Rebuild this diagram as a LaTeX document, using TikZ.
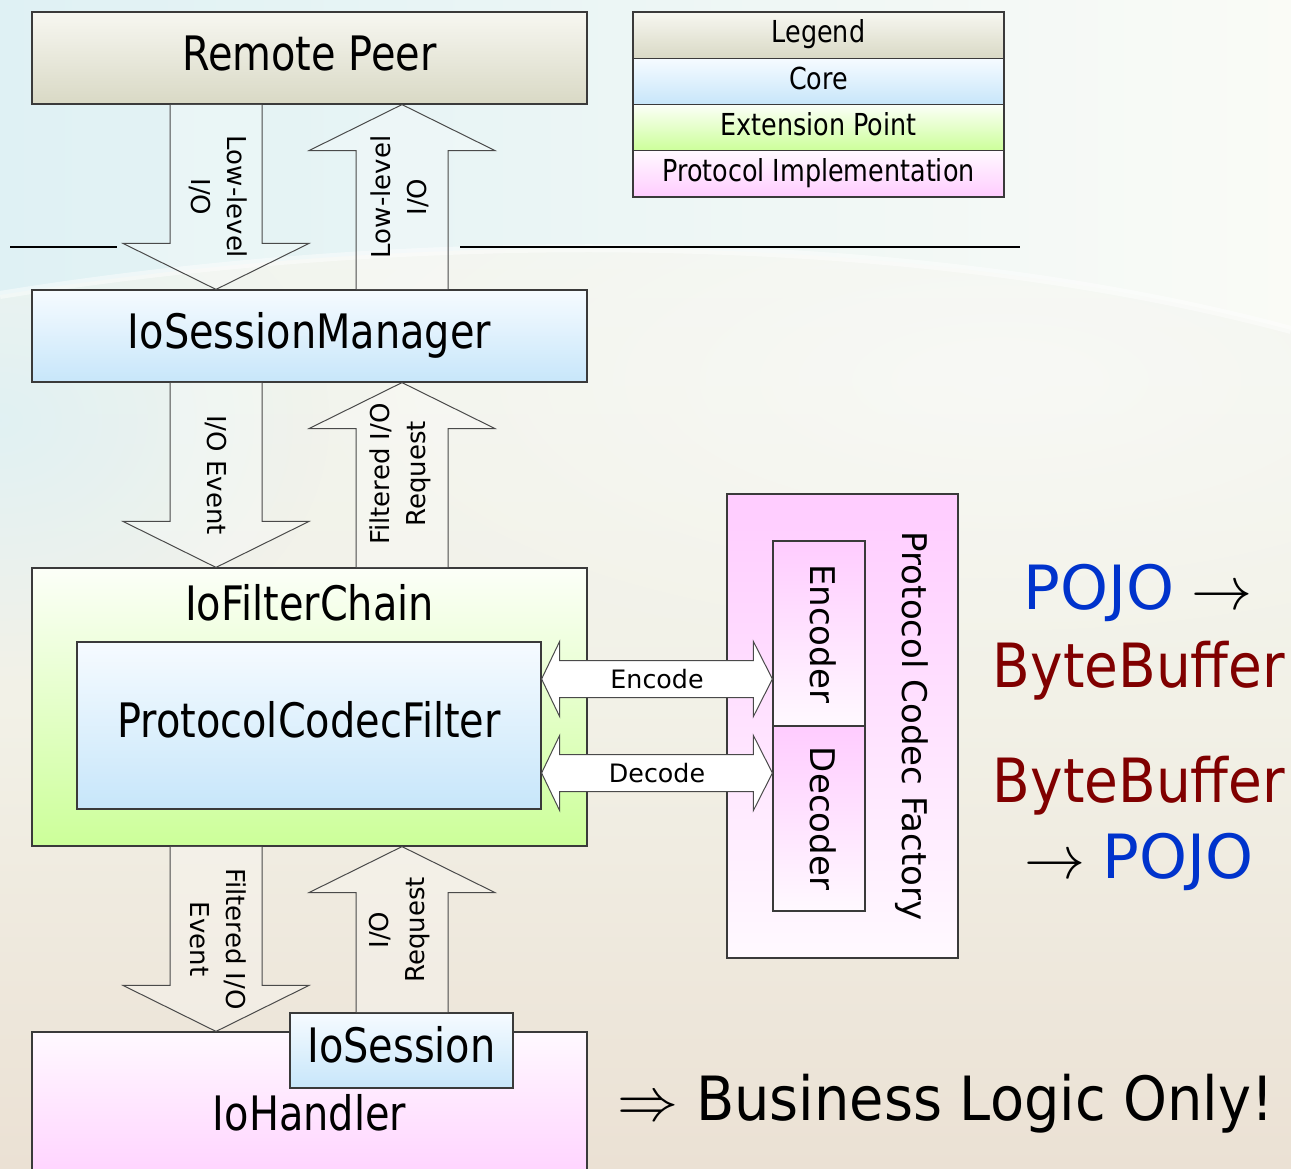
\documentclass[tikz,border=0pt]{standalone}
\usepackage{fontspec}
\setmainfont{DejaVu Sans}
\newfontfamily\tah[FakeStretch=0.84]{DejaVu Sans}
\newfontfamily\tahw[FakeStretch=0.9]{DejaVu Sans}
\newfontfamily\tahb[FakeStretch=0.915]{DejaVu Sans}
\newfontfamily\dvs{DejaVu Sans}
\usetikzlibrary{calc,fadings}
\tikzfading[name=softrad, inner color=transparent!0, outer color=transparent!100]
\newcommand\bigmath[1]{\scalebox{4.575}{\fontsize{10}{12}\selectfont$#1$}}

\definecolor{bgA}{HTML}{DFF1F4}
\definecolor{bgTR}{HTML}{FAFBF6}
\definecolor{bgL1}{HTML}{F2F5EF}
\definecolor{bgM}{HTML}{F2F1E7}
\definecolor{bgC}{HTML}{EBE1D4}
\definecolor{begT}{HTML}{F7F7F1}
\definecolor{begB}{HTML}{D9D9C5}
\definecolor{coreT}{HTML}{F6FBFF}
\definecolor{coreB}{HTML}{C7E6FA}
\definecolor{extT}{HTML}{FCFFF8}
\definecolor{extB}{HTML}{CCFF99}
\definecolor{impT}{HTML}{FFF9FF}
\definecolor{impB}{HTML}{FFCCFF}
\definecolor{edge}{HTML}{3A3A3A}
\definecolor{arrowedge}{HTML}{4A4A4A}
\definecolor{pojo}{HTML}{0033CC}
\definecolor{bbuf}{HTML}{800000}

\newcommand\dnblk[3]{%
  \coordinate (tmpS) at (#1|-#2.south);
  \coordinate (tmpT) at (#1|-#3.north);
  \draw[blk] ($(tmpS)+(-46,0)$) -- ($(tmpT)+(-46,-46)$) -- ($(tmpT)+(-93,-46)$) -- (tmpT)
     -- ($(tmpT)+(93,-46)$) -- ($(tmpT)+(46,-46)$) -- ($(tmpS)+(46,0)$);}
\newcommand\upblk[3]{%
  \coordinate (tmpS) at (#1|-#2.north);
  \coordinate (tmpT) at (#1|-#3.south);
  \draw[blk] ($(tmpS)+(-46,0)$) -- ($(tmpT)+(-46,46)$) -- ($(tmpT)+(-93,46)$) -- (tmpT)
     -- ($(tmpT)+(93,46)$) -- ($(tmpT)+(46,46)$) -- ($(tmpS)+(46,0)$);}
\newcommand\dblblk[2]{%
  \draw[dblk] (#1) -- ($(#1)+(18,-37.5)$) -- ($(#1)+(18,-18.5)$) -- ($(#2)+(-19,-18.5)$)
     -- ($(#2)+(-19,-37.5)$) -- (#2) -- ($(#2)+(-19,37.5)$) -- ($(#2)+(-19,18.5)$)
     -- ($(#1)+(18,18.5)$) -- ($(#1)+(18,37.5)$) -- cycle;}

\begin{document}
\begin{tikzpicture}[x=0.75pt,y=-0.75pt,
  box/.style={draw=edge, line width=0.9pt, inner sep=0pt,
    font=\tah\fontsize{35.6}{42}\selectfont, text height=27pt, text depth=8.5pt},
  beige/.style={top color=begT, bottom color=begB},
  core/.style={top color=coreT, bottom color=coreB},
  ext/.style={top color=extT, bottom color=extB},
  impl/.style={top color=impT, bottom color=impB},
  implrev/.style={top color=impB, bottom color=impT},
  mainw/.style={minimum width=416.25pt},
  leg/.style={draw=edge, line width=0.9pt, inner sep=0pt, minimum width=278.25pt, minimum height=34.7pt,
    font=\tah\fontsize{22.7}{27}\selectfont, text height=17.25pt, text depth=5.45pt},
  lbl/.style={inner sep=0pt, font=\tah\fontsize{35.6}{42}\selectfont, text height=27pt, text depth=8.5pt},
  blk/.style={draw=arrowedge, line width=0.75pt, fill=white, fill opacity=0.25, line join=miter},
  dblk/.style={draw=arrowedge, line width=0.75pt, fill=white, line join=miter},
  dlbl/.style={rotate=-90, align=center, inner sep=0pt, font=\fontsize{19.5}{27}\selectfont},
  ulbl/.style={rotate=90, align=center, inner sep=0pt, font=\fontsize{19.5}{27}\selectfont},
  hlbl/.style={inner sep=0pt, font=\fontsize{19}{23}\selectfont},
  rlbl/.style={rotate=-90, inner sep=0pt, font=\fontsize{25.5}{30}\selectfont},
  big/.style={inner sep=0pt, font=\tahw\fontsize{45.75}{55}\selectfont, text=bbuf},
  sep/.style={draw=black, line width=1.5pt}
]
\useasboundingbox (0,0) rectangle (1291,1169);

% background
\shade[top color=bgA, bottom color=bgC, middle color=bgM] (0,0) rectangle (1291,1169);
\shade[top color=bgL1, bottom color=bgC, middle color=bgM] (0,240) rectangle (1291,1169);
\fill[bgA, path fading=softrad, fill opacity=0.9] (0,420) ellipse (330 and 260);
\fill[white, path fading=softrad, fill opacity=0.45] (1000,380) ellipse (760 and 300);
\shade[left color=bgA, right color=bgTR] (0,0) -- (1291,0) -- (1291,330)
   .. controls (900,225) and (400,230) .. (0,295) -- cycle;
\draw[white, opacity=0.45, line width=6pt] (1291,330) .. controls (900,225) and (400,230) .. (0,295);

% separator line
\coordinate (h1) at (10,247);
\coordinate (h2) at (117,247);
\coordinate (h3) at (460,247);
\coordinate (h4) at (1020,247);
\draw[sep] (h1) -- (h2);
\draw[sep] (h3) -- (h4);

% main boxes
\node[box, beige, mainw, minimum height=69pt] (rp) at (309.5,58) {Remote Peer};
\node[box, core, mainw, minimum height=69pt] (sm) at (309.5,336) {IoSessionManager};
\node[box, ext, mainw, minimum height=208.5pt] (fc) at (309.5,707) {};
\node[lbl] (fct) at ($(fc.north)+(0,41)$) {IoFilterChain};
\node[box, core, minimum width=348pt, minimum height=125.25pt] (pcf) at (309,725.5) {ProtocolCodecFilter};
\node[box, impl, mainw, minimum height=129pt] (ioh) at (309.5,1118) {IoHandler};
\node[box, core, minimum width=167.25pt, minimum height=56.25pt] (ios) at (401.5,1050.5) {IoSession};

% codec factory
\node[box, implrev, minimum width=173.25pt, minimum height=348pt] (fac) at (842.5,726) {};
\node[box, implrev, minimum width=69pt, minimum height=138.75pt] (enc) at (819,633.5) {};
\node[box, implrev, minimum width=69pt, minimum height=138.75pt] (dec) at (819,818.5) {};
\node[rlbl] (fact) at ($(fac.east)+(-47,0)$) {Protocol Codec Factory};
\node[rlbl] (enct) at ($(enc.center)+(4,0)$) {Encoder};
\node[rlbl] (dect) at ($(dec.center)+(4,0)$) {Decoder};

% legend
\node[leg, beige] (lg1) at (818.5,35.1) {Legend};
\node[leg, core] (lg2) at (818.5,81.4) {Core};
\node[leg, ext] (lg3) at (818.5,127.6) {Extension Point};
\node[leg, impl] (lg4) at (818.5,173.9) {Protocol Implementation};

% vertical block arrows
\coordinate (dx) at (216,0);
\coordinate (ux) at (402,0);
\dnblk{dx}{rp}{sm}
\upblk{ux}{sm}{rp}
\dnblk{dx}{sm}{fc}
\upblk{ux}{fc}{sm}
\dnblk{dx}{fc}{ioh}
\upblk{ux}{ios}{fc}

\node[dlbl] (dl1) at (218,197) {Low-level\\I/O};
\node[ulbl] (ul1) at (400,197) {Low-level\\I/O};
\node[dlbl] (dl2) at (216,475) {I/O Event};
\node[ulbl] (ul2) at (400,474) {Filtered I/O\\Request};
\node[dlbl] (dl3) at (218,939) {Filtered I/O\\Event};
\node[ulbl] (ul3) at (400,930) {I/O\\Request};

% encode / decode double arrows
\coordinate (encL) at ($(pcf.east)+(0,-46.5)$);
\coordinate (encR) at (enc.west |- encL);
\coordinate (decL) at ($(pcf.east)+(0,47.5)$);
\coordinate (decR) at (dec.west |- decL);
\dblblk{encL}{encR}
\dblblk{decL}{decR}
\node[hlbl] (enclbl) at ($(encL)!0.5!(encR)$) {Encode};
\node[hlbl] (declbl) at ($(decL)!0.5!(decR)$) {Decode};

% right-hand texts
\node[big, anchor=base] (p1) at (1138,609) {\textcolor{pojo}{\dvs POJO} \textcolor{black}{\bigmath{\rightarrow}}};
\node[big, anchor=base] (b1) at (1139,687) {ByteBuffer};
\node[big, anchor=base] (b2) at (1139,802) {ByteBuffer};
\node[big, anchor=base] (p2) at (1139,878) {\textcolor{black}{\bigmath{\rightarrow}} \textcolor{pojo}{\dvs POJO}};
\node[big, anchor=base west, text=black, font=\tahb\fontsize{45.75}{55}\selectfont] (biz) at (617,1120) {\bigmath{\Rightarrow} Business Logic Only!};
\end{tikzpicture}
\end{document}
